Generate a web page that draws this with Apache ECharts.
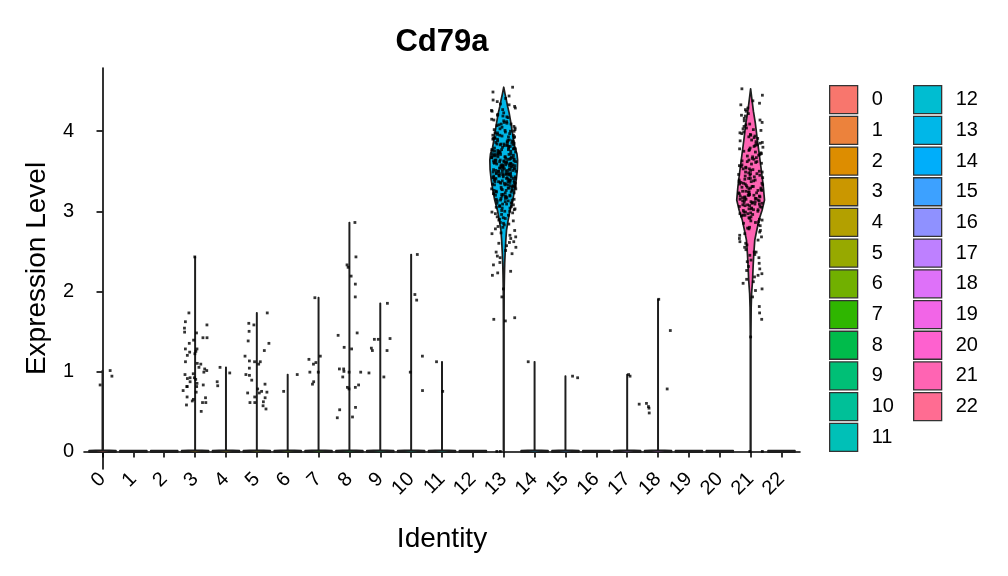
<!DOCTYPE html>
<html>
<head>
<meta charset="utf-8">
<script src="https://cdn.jsdelivr.net/npm/echarts@6/dist/echarts.min.js"></script>
<style>html,body{margin:0;padding:0;background:#fff}#chart{width:1008px;height:576px}</style>
</head>
<body>
<div id="chart"></div>
<script>
// ---------- data ----------
const gene = 'Cd79a';
const categories = ['0','1','2','3','4','5','6','7','8','9','10','11','12','13','14','15','16','17','18','19','20','21','22'];
const yTicks = [0, 1, 2, 3, 4];

// non-zero expression values (cells at 0 are hidden under the violin base)
const cl0 = [1.01, 0.94, 0.83];
const cl1 = [];
const cl2 = [];
const cl3 = [2.43, 1.73, 1.62, 1.54, 1.49, 1.48, 1.58, 1.42, 1.42, 1.39, 1.35, 1.28, 1.28, 1.25, 1.24, 1.22, 1.20,
  1.09, 1.12, 1.10, 1.05, 1.03, 1.01, 0.96, 0.97, 0.99, 0.92, 0.92, 0.91, 0.90, 0.87, 0.83, 0.85, 0.81, 0.81, 0.81,
  0.76, 0.74, 0.68, 0.67, 0.65, 0.63, 0.61, 0.61, 0.58, 0.50];
const cl4 = [1.05, 0.98, 0.87, 0.82];
const cl5 = [1.73, 1.60, 1.58, 1.50, 1.38, 1.35, 1.26, 1.12, 1.13, 1.12, 1.09, 1.19, 1.04, 0.96, 0.95, 0.89, 0.84,
  0.78, 0.75, 0.74, 0.73, 0.73, 0.67, 0.68, 0.62, 0.61, 0.61, 0.57, 0.53];
const cl6 = [0.96, 0.75];
const cl7 = [1.92, 1.19, 1.15, 1.11, 1.09, 0.99, 0.99, 0.87, 0.84];
const cl8 = [2.86, 2.43, 2.33, 2.30, 2.19, 2.09, 1.93, 1.45, 1.48, 1.30, 1.28, 1.03, 1.03, 0.99, 1.00, 0.99, 0.93,
  0.80, 0.80, 0.78, 0.83, 0.55, 0.52, 0.43, 0.42];
const cl9 = [1.85, 1.40, 1.41, 1.40, 1.29, 1.26, 1.26, 0.98, 0.93];
const cl10 = [2.46, 1.96, 1.89, 1.19, 0.99, 0.76];
const cl11 = [1.12, 0.75];
const cl12 = [];
const cl13 = [4.55, 4.49, 4.44, 4.41, 4.37, 4.34, 4.33, 4.29, 4.27, 4.26, 4.23, 4.21, 4.2, 4.18, 4.17, 4.14, 4.13, 4.12,
  4.1, 4.09, 4.08, 4.06, 4.05, 4.03, 4.02, 4.02, 4.0, 3.99, 3.98, 3.96, 3.95, 3.95, 3.93, 3.92, 3.91, 3.9, 3.88, 3.88,
  3.87, 3.86, 3.85, 3.84, 3.83, 3.83, 3.82, 3.81, 3.79, 3.79, 3.78, 3.77, 3.76, 3.75, 3.75, 3.74, 3.73, 3.72, 3.71,
  3.71, 3.7, 3.69, 3.68, 3.68, 3.67, 3.66, 3.65, 3.65, 3.64, 3.63, 3.62, 3.62, 3.61, 3.6, 3.59, 3.59, 3.58, 3.57,
  3.56, 3.56, 3.55, 3.54, 3.53, 3.53, 3.52, 3.51, 3.5, 3.5, 3.49, 3.48, 3.47, 3.46, 3.46, 3.45, 3.44, 3.43, 3.43,
  3.42, 3.41, 3.4, 3.39, 3.39, 3.38, 3.37, 3.36, 3.35, 3.34, 3.34, 3.33, 3.31, 3.3, 3.29, 3.28, 3.27, 3.26, 3.25,
  3.24, 3.22, 3.21, 3.2, 3.19, 3.17, 3.16, 3.15, 3.13, 3.12, 3.1, 3.09, 3.07, 3.06, 3.04, 3.02, 3.0, 2.98, 2.96,
  2.93, 2.91, 2.89, 2.86, 2.83, 2.8, 2.76, 2.73, 2.7, 2.68, 2.62, 2.61, 2.6, 2.55, 2.49, 2.44, 2.42, 2.36, 2.33,
  2.25, 2.23, 2.2, 2.03, 1.93, 1.67, 1.65, 1.63,
  4.15, 4.07, 4.01, 3.97, 3.94, 3.89, 3.86, 3.81, 3.78, 3.74, 3.7, 3.67, 3.63, 3.61, 3.58, 3.55, 3.52, 3.48, 3.45,
  3.42, 3.38, 3.36, 3.32, 3.29, 3.23, 3.18, 3.14, 3.08, 3.03, 2.97, 2.9, 2.84, 2.78,
  3.92, 3.84, 3.77, 3.69, 3.64, 3.6, 3.57, 3.51, 3.47, 3.41, 3.35, 3.31, 3.26, 3.2, 3.11, 3.05,
  4.19, 4.11, 4.04, 3.98, 3.93, 3.91, 3.87, 3.85, 3.82, 3.8, 3.78, 3.76, 3.73, 3.72, 3.7, 3.68, 3.66, 3.65, 3.63,
  3.62, 3.6, 3.59, 3.57, 3.56, 3.54, 3.53, 3.51, 3.5, 3.49, 3.47, 3.46, 3.44, 3.43, 3.41, 3.4, 3.38, 3.37, 3.35,
  3.33, 3.32, 3.3, 3.28, 3.26, 3.24, 3.22, 3.19, 3.16, 3.13, 3.1, 3.06, 3.01, 2.95, 2.88, 2.81, 2.72,
  4.09, 4.0, 3.95, 3.89, 3.84, 3.79, 3.75, 3.71, 3.67, 3.64, 3.61, 3.58, 3.55, 3.52, 3.48, 3.45, 3.42, 3.39, 3.36,
  3.33, 3.3, 3.27, 3.23, 3.19, 3.15, 3.09, 3.04, 2.99, 2.92, 2.85, 2.66, 2.57, 2.51, 2.47,
  3.9, 3.83, 3.77, 3.72, 3.68, 3.62, 3.58, 3.54, 3.5, 3.46, 3.41, 3.37, 3.34, 3.28, 3.21, 3.14, 3.0, 4.25, 4.31, 4.39,
  0, 0];
const cl14 = [1.12];
const cl15 = [0.94, 0.92];
const cl16 = [];
const cl17 = [0.96, 0.94, 0.59];
const cl18 = [1.90, 1.51, 0.78, 0.60, 0.56, 0.54, 0.48];
const cl19 = [];
const cl20 = [];
const cl21 = [4.53, 4.45, 4.38, 4.33, 4.29, 4.25, 4.22, 4.19, 4.16, 4.13, 4.11, 4.08, 4.06, 4.03, 4.01, 3.99, 3.97,
  3.95, 3.93, 3.91, 3.89, 3.87, 3.85, 3.84, 3.82, 3.8, 3.78, 3.77, 3.75, 3.73, 3.72, 3.7, 3.68, 3.67, 3.65, 3.64,
  3.62, 3.61, 3.59, 3.58, 3.56, 3.55, 3.53, 3.52, 3.51, 3.49, 3.48, 3.47, 3.45, 3.44, 3.43, 3.41, 3.4, 3.39, 3.37,
  3.36, 3.35, 3.34, 3.32, 3.31, 3.3, 3.29, 3.28, 3.27, 3.25, 3.24, 3.23, 3.22, 3.21, 3.2, 3.19, 3.18, 3.17, 3.16,
  3.15, 3.14, 3.13, 3.12, 3.11, 3.1, 3.09, 3.08, 3.07, 3.06, 3.05, 3.03, 3.02, 3.01, 2.99, 2.97, 2.95, 2.93, 2.91,
  2.88, 2.85, 2.82, 2.79, 2.76, 2.72, 2.68, 2.64, 2.6, 2.55, 2.49, 2.49, 2.45, 2.42, 2.37, 2.35, 2.28, 2.26, 2.2,
  2.18, 2.15, 2.1, 2.03, 2.01, 1.81, 1.73, 1.65, 1.43,
  3.96, 3.86, 3.76, 3.66, 3.57, 3.5, 3.42, 3.38, 3.33, 3.26, 3.23, 3.19, 3.16, 3.13, 3.09, 3.04, 3.0, 2.96, 2.9,
  2.83, 2.74, 2.66, 2.58,
  3.46, 3.35, 3.29, 3.21, 3.17, 3.11, 3.07, 2.98, 2.94, 2.87,
  4.35, 4.27, 4.2, 4.14, 4.09, 4.04, 3.98, 3.92, 3.88, 3.83, 3.79, 3.74, 3.69, 3.63, 3.6, 3.54, 3.49, 3.45, 3.41,
  3.37, 3.34, 3.3, 3.26, 3.24, 3.2, 3.18, 3.15, 3.12, 3.1, 3.06, 3.02, 2.99, 2.95, 2.92, 2.86, 2.8, 2.7, 2.62, 2.52,
  2.39, 2.31, 2.12,
  4.02, 3.94, 3.81, 3.71, 3.62, 3.53, 3.47, 3.39, 3.31, 3.25, 3.2, 3.14, 3.08, 3.03, 2.97, 2.89, 2.78, 2.46, 2.22, 1.93,
  0, 0];
const cl22 = [];

// violin outlines of the two expressing clusters: [expression, relative width]
const density13 = [[0, 0.02], [1.5, 0.02], [2.0, 0.03], [2.2, 0.05], [2.35, 0.07], [2.47, 0.1], [2.64, 0.15],
  [2.76, 0.2], [2.89, 0.32], [3.01, 0.45], [3.14, 0.65], [3.26, 0.78], [3.39, 0.9], [3.52, 0.98], [3.64, 1.0],
  [3.72, 0.95], [3.8, 0.8], [3.9, 0.7], [4.01, 0.6], [4.12, 0.5], [4.23, 0.39], [4.31, 0.28], [4.39, 0.19],
  [4.47, 0.09], [4.55, 0]];
const density21 = [[0, 0.02], [1.43, 0.02], [1.8, 0.04], [1.97, 0.07], [2.14, 0.14], [2.31, 0.18], [2.47, 0.23],
  [2.64, 0.3], [2.76, 0.44], [2.89, 0.6], [3.01, 0.82], [3.14, 1.0], [3.3, 0.92], [3.5, 0.78], [3.7, 0.63],
  [3.9, 0.48], [4.1, 0.34], [4.25, 0.2], [4.4, 0.09], [4.53, 0]];

const clusterValues = [cl0, cl1, cl2, cl3, cl4, cl5, cl6, cl7, cl8, cl9, cl10, cl11, cl12, cl13, cl14, cl15, cl16,
  cl17, cl18, cl19, cl20, cl21, cl22];

// ---------- styling helpers ----------
function hcl(h, c, l) {
  const Xn = 95.047, Yn = 100, Zn = 108.883;
  const rad = h * Math.PI / 180;
  const U = c * Math.cos(rad), V = c * Math.sin(rad);
  const Y = Yn * Math.pow((l + 16) / 116, 3);
  const den = Xn + 15 * Yn + 3 * Zn;
  const un = 4 * Xn / den, vn = 9 * Yn / den;
  const u = U / (13 * l) + un, v = V / (13 * l) + vn;
  const X = 9 * Y * u / (4 * v);
  const Z = -X / 3 - 5 * Y + 3 * Y / v;
  const x = X / 100, y = Y / 100, z = Z / 100;
  const lin = [3.240479 * x - 1.537150 * y - 0.498535 * z,
    -0.969256 * x + 1.875992 * y + 0.041556 * z,
    0.055648 * x - 0.204043 * y + 1.057311 * z];
  return '#' + lin.map(t => {
    let g = t <= 0.0031308 ? 12.92 * t : 1.055 * Math.pow(t, 1 / 2.4) - 0.055;
    g = Math.max(0, Math.min(1, g));
    return Math.round(g * 255).toString(16).padStart(2, '0');
  }).join('');
}
const n = categories.length;
const colors = categories.map((_, i) => hcl(15 + i * 360 / n, 100, 65));

const HALF = 0.45;
function profileFor(i) {
  if (i === 13) return density13;
  if (i === 21) return density21;
  const vals = clusterValues[i];
  const top = vals.length ? Math.max.apply(null, vals) : 0;
  if (top <= 0) return [[-0.009, 0.97], [0.009, 0.97], [0.011, 0]];
  return [[-0.009, 0.97], [0.009, 0.97], [0.015, 0.02], [0.03, 0.01], [top, 0.01], [top, 0]];
}
function jitter(i, k) {
  const s = Math.sin(k * 12.9898 + i * 78.233 + 1.7) * 43758.5453;
  return (s - Math.floor(s) - 0.5) * 0.8;
}

const FONT = '"Liberation Sans", Arial, Helvetica, sans-serif';

const violinSeries = categories.map((name, i) => ({
  type: 'custom',
  name: name,
  data: [[i, 0]],
  encode: { x: 0, y: 1 },
  itemStyle: { color: colors[i] },
  silent: true,
  z: 2,
  renderItem: function (params, api) {
    const c = api.value(0);
    const prof = profileFor(c);
    const left = prof.map(p => api.coord([c - p[1] * HALF, p[0]]));
    const right = prof.slice().reverse().map(p => api.coord([c + p[1] * HALF, p[0]]));
    return {
      type: 'polygon',
      shape: { points: left.concat(right) },
      style: { fill: colors[c], stroke: '#1e1e1e', lineWidth: 1.7, lineJoin: 'round' }
    };
  }
}));

const dots = [];
clusterValues.forEach((vals, i) => {
  vals.forEach((v, k) => dots.push([i + jitter(i, k), v]));
});

const legendCommon = {
  orient: 'vertical',
  top: 85,
  padding: 0,
  itemWidth: 28,
  itemHeight: 28,
  itemGap: 1.4,
  icon: 'rect',
  selectedMode: false,
  itemStyle: { borderColor: '#333', borderWidth: 1.3 },
  textStyle: { fontSize: 20, color: '#000', fontFamily: FONT, padding: [0, 0, 0, 9] }
};

const option = {
  animation: false,
  backgroundColor: '#fff',
  title: {
    text: gene,
    left: 437,
    top: 22,
    textAlign: 'center',
    textStyle: { fontSize: 31, fontWeight: 'bold', color: '#000', fontFamily: FONT }
  },
  legend: [
    Object.assign({}, legendCommon, { left: 829, data: categories.slice(0, 12) }),
    Object.assign({}, legendCommon, { left: 913, data: categories.slice(12) })
  ],
  grid: { left: 84, right: 208, top: 68, bottom: 107 },
  xAxis: {
    type: 'value',
    min: -0.6,
    max: 22.6,
    splitLine: { show: false },
    axisLine: { show: true, lineStyle: { color: '#000', width: 1.6 } },
    axisTick: { show: true, length: 6, customValues: categories.map((_, i) => i), lineStyle: { color: '#000', width: 1.6 } },
    axisLabel: {
      customValues: categories.map((_, i) => i),
      formatter: v => categories[Math.round(v)],
      rotate: 45, fontSize: 20, color: '#000', fontFamily: FONT, margin: 7
    },
    name: 'Identity',
    nameLocation: 'middle',
    nameGap: 56,
    nameTextStyle: { fontSize: 28, color: '#000', fontFamily: FONT }
  },
  yAxis: {
    type: 'value',
    min: -0.22,
    max: 4.79,
    splitLine: { show: false },
    axisLine: { show: true, lineStyle: { color: '#000', width: 1.6 } },
    axisTick: { show: true, length: 6, customValues: yTicks, lineStyle: { color: '#000', width: 1.6 } },
    axisLabel: { customValues: yTicks, fontSize: 20, color: '#000', fontFamily: FONT, margin: 10 },
    name: 'Expression Level',
    nameLocation: 'middle',
    nameGap: 33,
    nameTextStyle: { fontSize: 28, color: '#000', fontFamily: FONT }
  },
  series: violinSeries.concat([{
    type: 'scatter',
    name: 'cells',
    data: dots,
    symbol: 'rect',
    symbolSize: 2.8,
    itemStyle: { color: '#000' },
    silent: true,
    z: 5
  }])
};

const chart = echarts.init(document.getElementById('chart'), null, { renderer: 'canvas' });
chart.setOption(option);
</script>
</body>
</html>
